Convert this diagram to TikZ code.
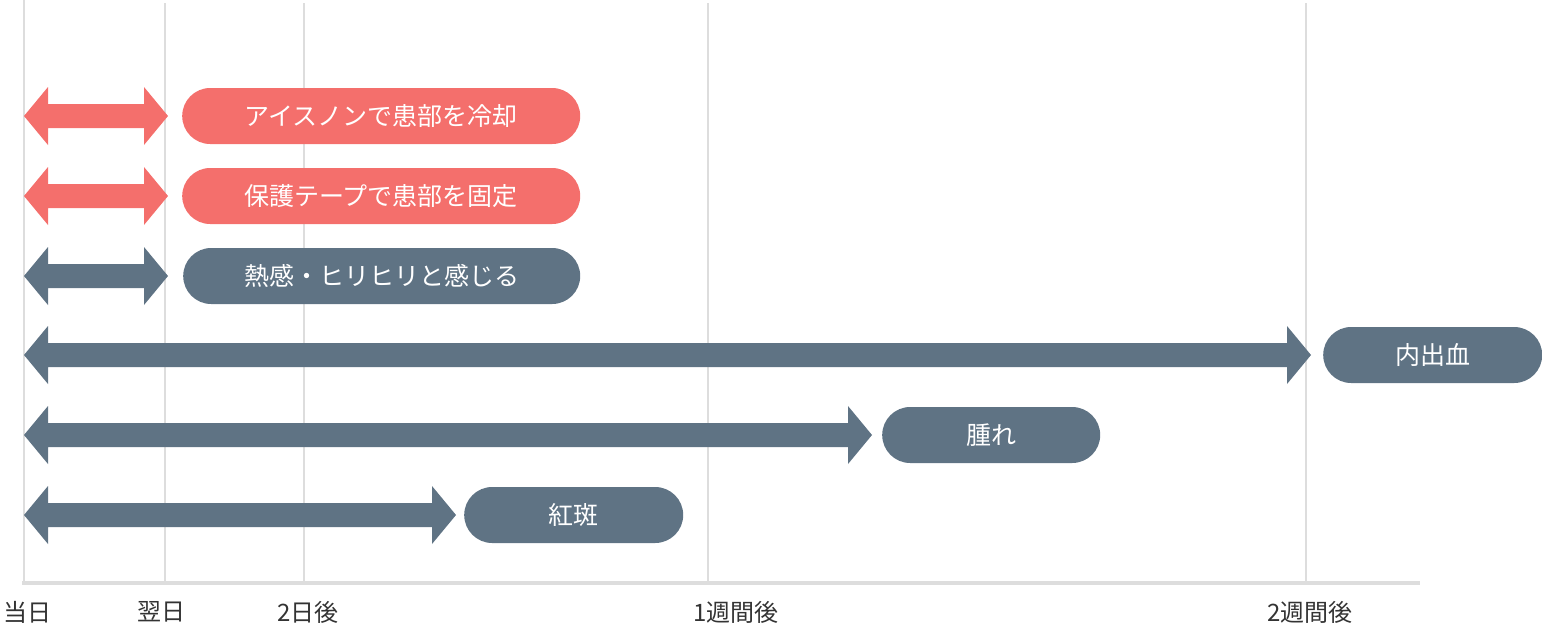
\documentclass[tikz,border=0pt]{standalone}
\usepackage{fontspec}
\newfontfamily\cjk{Noto Sans CJK JP}
\definecolor{rd}{HTML}{F46F6C}
\definecolor{gy}{HTML}{5F7384}
\definecolor{ln}{HTML}{DDDDDD}
\begin{document}
\begin{tikzpicture}[x=1pt,y=-1pt,
  pill/.style={rounded corners=28pt,minimum height=56pt,text=white,font=\cjk\fontsize{25}{25}\selectfont,anchor=west,inner sep=0pt},
  lab/.style={font=\cjk\fontsize{24}{24}\selectfont,text=black!80}]
\useasboundingbox (0,0) rectangle (1542,630);
\foreach \x in {165,304,708,1306} \draw[ln,line width=2pt] (\x,3) -- (\x,583);
\draw[ln,line width=2pt] (24,0) -- (24,583);
\draw[ln,line width=4pt] (22,583) -- (1420,583);
\newcommand\dblarrow[4]{\fill[#4] (#1,#3) -- (#1+24,#3-29) -- (#1+24,#3-12) -- (#2-24,#3-12) -- (#2-24,#3-29) -- (#2,#3) -- (#2-24,#3+29) -- (#2-24,#3+12) -- (#1+24,#3+12) -- (#1+24,#3+29) -- cycle;}
\dblarrow{24}{168}{116}{rd}
\dblarrow{24}{168}{196}{rd}
\dblarrow{24}{168}{276}{gy}
\dblarrow{24}{1311}{355}{gy}
\dblarrow{24}{872}{435}{gy}
\dblarrow{24}{456}{515}{gy}
\node[pill,fill=rd,minimum width=398pt] (p1) at (182,116) {アイスノンで患部を冷却};
\node[pill,fill=rd,minimum width=398pt] (p2) at (182,196) {保護テープで患部を固定};
\node[pill,fill=gy,minimum width=397pt] (p3) at (183,276) {熱感・ヒリヒリと感じる};
\node[pill,fill=gy,minimum width=219pt] (p4) at (1323,355) {内出血};
\node[pill,fill=gy,minimum width=218pt] (p5) at (882,435) {腫れ};
\node[pill,fill=gy,minimum width=219pt] (p6) at (464,515) {紅斑};
\node[lab] (l1) at (27,612) {当日};
\node[lab] (l2) at (161,612) {翌日};
\node[lab] (l3) at (308,612) {2日後};
\node[lab] (l4) at (736,612) {1週間後};
\node[lab] (l5) at (1310,612) {2週間後};
\end{tikzpicture}
\end{document}
